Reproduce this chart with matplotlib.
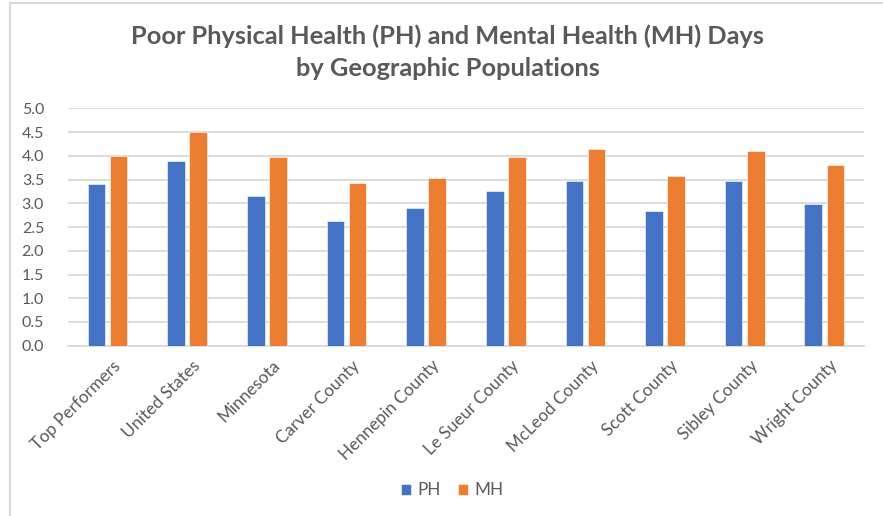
import matplotlib
matplotlib.use("Agg")
import matplotlib.pyplot as plt
from matplotlib.lines import Line2D
import matplotlib.transforms as mtransforms
import numpy as np

plt.rcParams['font.family'] = ['Lato', 'DejaVu Sans']

regions = ["Top Performers", "United States", "Minnesota", "Carver County",
           "Hennepin County", "Le Sueur County", "McLeod County",
           "Scott County", "Sibley County", "Wright County"]
ph_days = [3.4, 3.9, 3.15, 2.63, 2.91, 3.25, 3.47, 2.83, 3.47, 2.99]
mh_days = [4.0, 4.5, 3.98, 3.43, 3.53, 3.98, 4.14, 3.57, 4.10, 3.80]
yticks = [0.0, 0.5, 1.0, 1.5, 2.0, 2.5, 3.0, 3.5, 4.0, 4.5, 5.0]

BLUE = "#4472C4"
ORANGE = "#ED7D31"
GRID = "#D9D9D9"
TEXT = "#595959"

fig = plt.figure(figsize=(8.83, 5.16), dpi=100)
ax = fig.add_axes([0.0767, 0.330, 0.902, 0.460])

x = np.arange(len(regions))
w = 0.222
off = 0.139
ax.bar(x - off, ph_days, w, color=BLUE, edgecolor="white", linewidth=0.4, label="PH", zorder=3)
ax.bar(x + off, mh_days, w, color=ORANGE, edgecolor="white", linewidth=0.4, label="MH", zorder=3)

ax.set_xlim(-0.5, len(regions) - 0.5)
ax.set_ylim(0, 5.0)
ax.set_yticks(yticks)
ax.set_yticklabels([f"{v:.1f}" for v in yticks], color=TEXT, fontsize=11.5)
ax.yaxis.grid(True, color=GRID, linewidth=1.3, zorder=0)
ax.tick_params(axis="both", length=0)
ax.tick_params(axis="y", pad=17)
for side in ["top", "right", "left"]:
    ax.spines[side].set_visible(False)
ax.spines["bottom"].set_color(GRID)
ax.spines["bottom"].set_linewidth(1.3)

ax.set_xticks(x)
ax.set_xticklabels(regions, rotation=45, ha="right", va="top",
                   rotation_mode="anchor", color=TEXT, fontsize=12.3)
shift = mtransforms.ScaledTranslation(5 / 100, -7 / 100, fig.dpi_scale_trans)
for lbl in ax.get_xticklabels():
    lbl.set_transform(lbl.get_transform() + shift)

fig.text(0.507, 0.899, "Poor Physical Health (PH) and Mental Health (MH) Days\nby Geographic Populations",
         ha="center", va="center", fontsize=18.3, fontweight="bold", color=TEXT,
         linespacing=1.45)

ax.legend(loc="center", bbox_to_anchor=(0.512, 0.05), bbox_transform=fig.transFigure,
          ncol=2, frameon=False, fontsize=12.3, labelcolor=TEXT,
          handlelength=0.6, handleheight=0.6, handletextpad=0.35, columnspacing=1.0)

# chart area border (top and left edges)
fig.add_artist(Line2D([0.011, 1.0], [0.995, 0.995], transform=fig.transFigure, color=GRID, linewidth=1.5))
fig.add_artist(Line2D([0.011, 0.011], [0.0, 0.995], transform=fig.transFigure, color=GRID, linewidth=1.5))

fig.savefig("out.png", dpi=100)
